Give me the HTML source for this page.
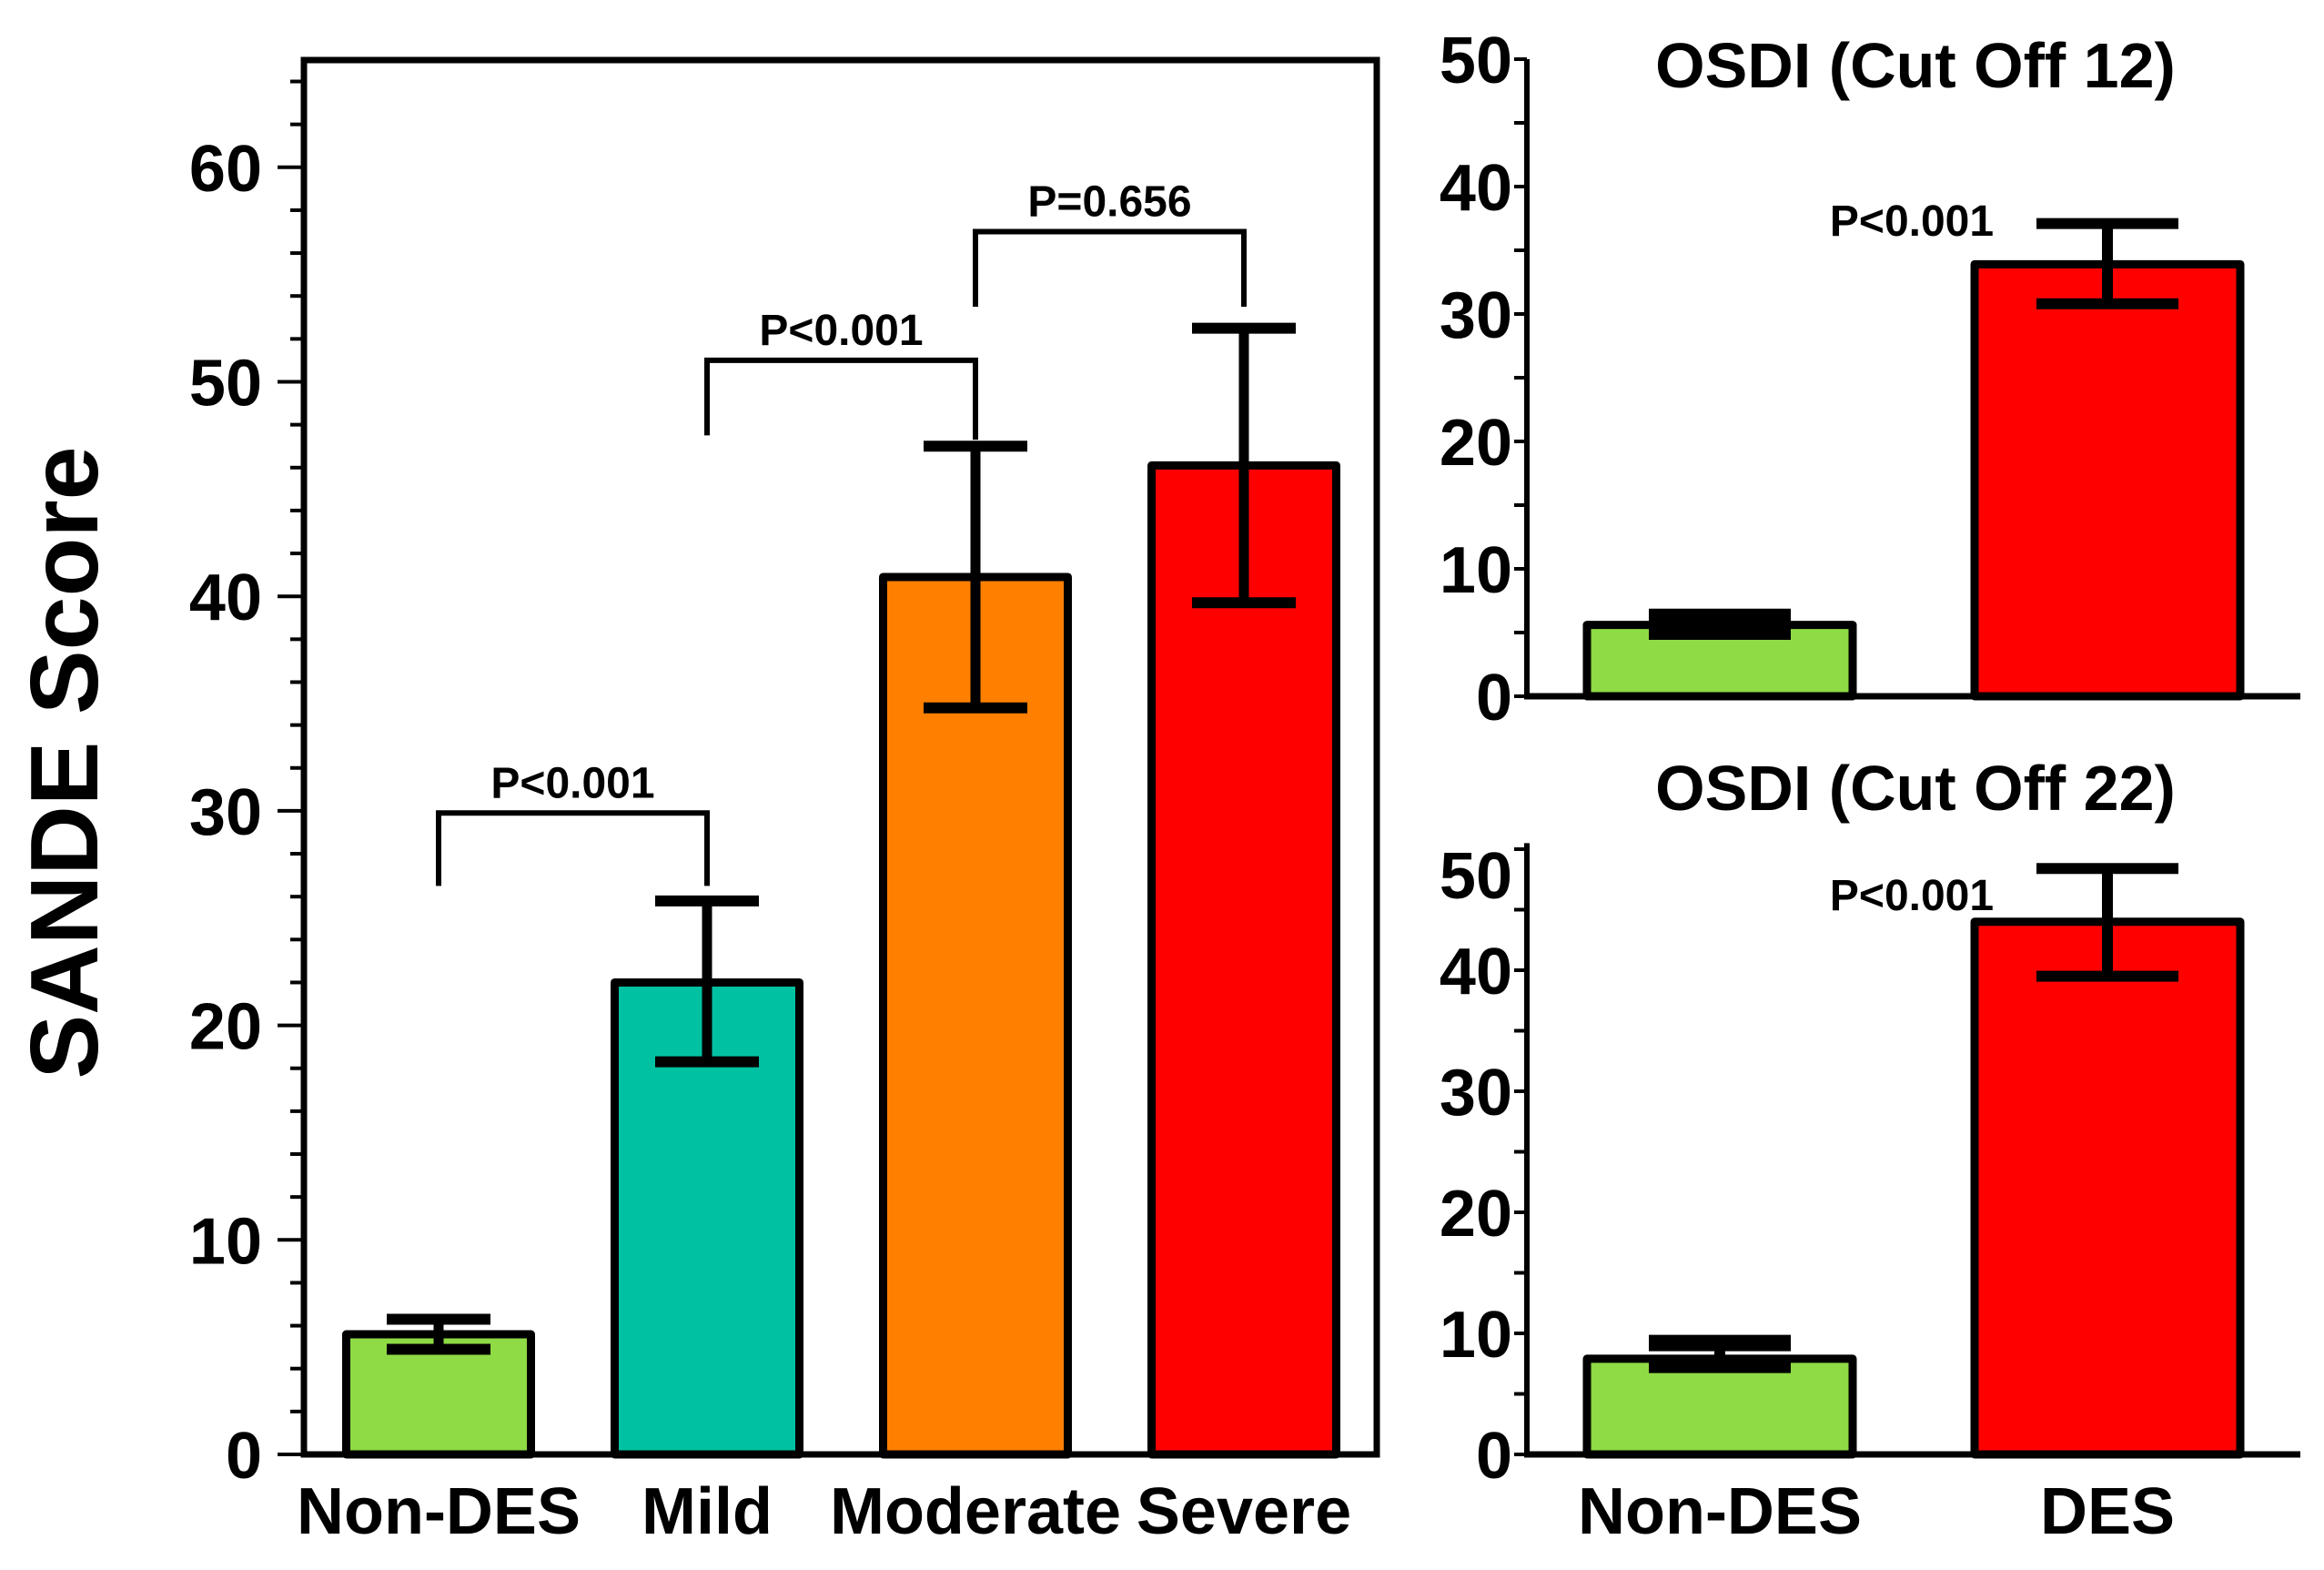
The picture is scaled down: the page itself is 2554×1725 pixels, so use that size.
<!DOCTYPE html>
<html><head><meta charset="utf-8">
<style>
html,body{margin:0;padding:0;background:#fff;}
svg{display:block;}
text{font-family:"Liberation Sans",Arial,sans-serif;font-weight:bold;fill:#000;}
</style></head>
<body>
<svg id="fig" width="2554" height="1725" viewBox="0 0 2554 1725" xmlns="http://www.w3.org/2000/svg"></svg>
<script>
// ---- Left chart data (SANDE score by severity) ----
const sandeCategories = ["Non-DES", "Mild", "Moderate", "Severe"];
const sandeMeans = [5.6, 22.0, 40.9, 46.1];
const sandeUpper = [6.3, 25.8, 47.0, 52.5];
const sandeLower = [4.9, 18.3, 34.8, 39.7];
const sandeColors = ["#8edb45", "#00c2a3", "#ff8000", "#ff0000"];
const sandeTicks = [0, 10, 20, 30, 40, 50, 60];
const sandeBracketFrom = [0, 1, 2];
const sandeBracketTo = [1, 2, 3];
const sandeBracketTop = [29.9, 51.0, 57.0];
const sandeBracketLeftEnd = [26.5, 47.5, 53.5];
const sandeBracketRightEnd = [26.5, 47.3, 53.5];
const sandeBracketLabels = ["P<0.001", "P<0.001", "P=0.656"];

// ---- Right charts data (OSDI cut offs) ----
const osdiCategories = ["Non-DES", "DES"];
const osdi12Means = [5.6, 33.9];
const osdi12Upper = [6.3, 37.1];
const osdi12Lower = [5.0, 30.8];
const osdi22Means = [7.9, 44.0];
const osdi22Upper = [9.2, 48.4];
const osdi22Lower = [7.4, 39.5];
const osdiColors = ["#8edb45", "#ff0000"];
const osdi12Ticks = [0, 10, 20, 30, 40, 50];
const osdi22Ticks = [0, 10, 20, 30, 40, 50];
const osdiPLabel = "P<0.001";

const NS = "http://www.w3.org/2000/svg";
const svg = document.getElementById("fig");
function mk(tag, attrs, parent) {
  const e = document.createElementNS(NS, tag);
  for (const k in attrs) e.setAttribute(k, attrs[k]);
  (parent || svg).appendChild(e);
  return e;
}
function txt(s, x, y, size, anchor, parent) {
  const t = mk("text", {x: x, y: y, "font-size": size, "text-anchor": anchor || "middle"}, parent);
  t.textContent = s;
  return t;
}

// ================= LEFT CHART =================
(function () {
  const g = mk("g", {});
  
  
  const x0 = 334, x1 = 1513, yTop = 66, yBase = 1598, unit = 23.57;
  const y = v => yBase - v * unit;
  const cx = i => 482 + i * 295;
  const bw = 203;

  for (let v = 0; v <= 64; v += 2) {
    const major = v % 10 === 0;
    const tk = mk("line", {x1: major ? 305 : 319, x2: x0, y1: y(v), y2: y(v), stroke: "#000", "stroke-width": 4}, g);
    
    
  }
  sandeTicks.forEach(v => {
    const t = txt(String(v), 288, y(v) + 26, 72, "end", g);
    
    
  });

  sandeMeans.forEach((m, i) => {
    const b = mk("rect", {x: cx(i) - bw / 2, y: y(m), width: bw, height: yBase - y(m), fill: sandeColors[i], stroke: "#000", "stroke-width": 9, "stroke-linejoin": "round"}, g);
    
    
  });
  sandeMeans.forEach((m, i) => {
    const eg = mk("g", {stroke: "#000"}, g);
    
    
    mk("line", {x1: cx(i), x2: cx(i), y1: y(sandeUpper[i]), y2: y(sandeLower[i]), "stroke-width": 11}, eg);
    mk("line", {x1: cx(i) - 57, x2: cx(i) + 57, y1: y(sandeUpper[i]), y2: y(sandeUpper[i]), "stroke-width": 12}, eg);
    mk("line", {x1: cx(i) - 57, x2: cx(i) + 57, y1: y(sandeLower[i]), y2: y(sandeLower[i]), "stroke-width": 12}, eg);
  });

  const fr = mk("rect", {x: x0, y: yTop, width: x1 - x0, height: yBase - yTop, fill: "none", stroke: "#000", "stroke-width": 7}, g);
  
  

  sandeBracketLabels.forEach((lab, k) => {
    const a = cx(sandeBracketFrom[k]), b = cx(sandeBracketTo[k]);
    const p = mk("polyline", {points: `${a},${y(sandeBracketLeftEnd[k])} ${a},${y(sandeBracketTop[k])} ${b},${y(sandeBracketTop[k])} ${b},${y(sandeBracketRightEnd[k])}`, fill: "none", stroke: "#000", "stroke-width": 6}, g);
    
    
    const t = txt(lab, (a + b) / 2, y(sandeBracketTop[k]) - 17, 48, "middle", g);
    
    
  });

  sandeCategories.forEach((c, i) => {
    const t = txt(c, cx(i), 1685, 72, "middle", g);
    
    
  });

  const yt = mk("text", {x: 0, y: 0, "font-size": 106, "text-anchor": "middle", transform: "translate(107,838) rotate(-90)"}, g);
  yt.textContent = "SANDE Score";
  
  
})();

// ================= RIGHT CHARTS =================
function osdiChart(name, title, titleY, yBase, unit, axisTopVal, means, upper, lower, ticks, pY, showX, topLabelShift, capW) {
  const g = mk("g", {});
  
  
  const x0 = 1678, x1 = 2528;
  const y = v => yBase - v * unit;
  const cx = i => 1890 + i * 426;
  const bw = 292;

  for (let v = 0; v <= 50; v += 5) {
    const tk = mk("line", {x1: 1664, x2: x0, y1: y(v), y2: y(v), stroke: "#000", "stroke-width": 4}, g);
    
    
  }
  ticks.forEach((v, k) => {
    const shift = (k === ticks.length - 1) ? topLabelShift : 0;
    const t = txt(String(v), 1662, y(v) + 26 + shift, 72, "end", g);
    
    
  });
  means.forEach((m, i) => {
    const b = mk("rect", {x: cx(i) - bw / 2, y: y(m), width: bw, height: yBase - y(m), fill: osdiColors[i], stroke: "#000", "stroke-width": 9, "stroke-linejoin": "round"}, g);
    
    
  });
  means.forEach((m, i) => {
    const eg = mk("g", {stroke: "#000"}, g);
    
    
    const cw = i === 0 ? capW : 12;
    mk("line", {x1: cx(i), x2: cx(i), y1: y(upper[i]), y2: y(lower[i]), "stroke-width": 12}, eg);
    mk("line", {x1: cx(i) - 78, x2: cx(i) + 78, y1: y(upper[i]), y2: y(upper[i]), "stroke-width": cw}, eg);
    mk("line", {x1: cx(i) - 78, x2: cx(i) + 78, y1: y(lower[i]), y2: y(lower[i]), "stroke-width": cw}, eg);
  });
  const ya = mk("line", {x1: x0, x2: x0, y1: y(axisTopVal), y2: yBase + 3, stroke: "#000", "stroke-width": 6}, g);
  
  
  const xa = mk("line", {x1: x0 - 3, x2: x1, y1: yBase, y2: yBase, stroke: "#000", "stroke-width": 7}, g);
  
  

  const tt = txt(title, 2105, titleY, 70, "middle", g);
  
  
  const pl = txt(osdiPLabel, 2101, pY, 48, "middle", g);
  
  
  if (showX) {
    osdiCategories.forEach((c, i) => {
      const t = txt(c, cx(i), 1685, 72, "middle", g);
      
      
    });
  }
}
osdiChart("osdi-cutoff-12-chart", "OSDI (Cut Off 12)", 96, 765, 14.0, 50, osdi12Means, osdi12Upper, osdi12Lower, osdi12Ticks, 259, false, 0, 16);
osdiChart("osdi-cutoff-22-chart", "OSDI (Cut Off 22)", 890, 1598, 13.3, 50.5, osdi22Means, osdi22Upper, osdi22Lower, osdi22Ticks, 1000, true, 28, 18);
</script>
</body></html>
